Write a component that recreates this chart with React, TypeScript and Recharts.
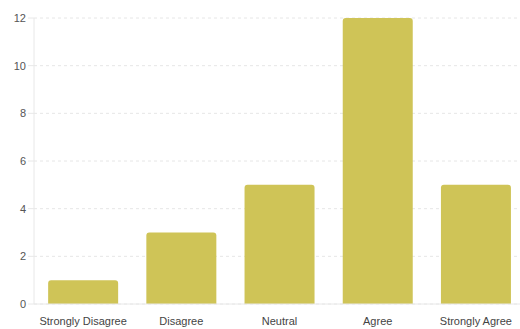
import { BarChart, Bar, XAxis, YAxis, CartesianGrid } from 'recharts';

const categories = ['Strongly Disagree', 'Disagree', 'Neutral', 'Agree', 'Strongly Agree'];
const counts = [1, 3, 5, 12, 5];
const yTicks = [0, 2, 4, 6, 8, 10, 12];

const data = categories.map((c, i) => ({ name: c, value: counts[i] }));

export default function App() {
  return (
    <div style={{ position: 'absolute', left: 0, top: 0, width: 520, height: 329, overflow: 'hidden', background: '#fff' }}>
      <BarChart
        width={520}
        height={329}
        data={data}
        margin={{ top: 18, right: -5, left: 0, bottom: 0 }}
        barCategoryGap="14.4%"
        style={{ fontFamily: 'Liberation Sans, Arial, sans-serif' }}
      >
        <CartesianGrid vertical={false} stroke="#e6e6e6" strokeDasharray="3 3" />
        <XAxis
          dataKey="name"
          height={25}
          axisLine={{ stroke: '#e8e8e8' }}
          tickLine={false}
          tickMargin={7}
          tick={{ fontSize: 11, fill: '#444' }}
          interval={0}
        />
        <YAxis
          width={34}
          domain={[0, 12]}
          ticks={yTicks}
          axisLine={{ stroke: '#e8e8e8' }}
          tickLine={{ stroke: '#e8e8e8' }}
          tick={{ fontSize: 11, fill: '#555' }}
        />
        <Bar dataKey="value" fill="#cfc457" radius={[3, 3, 0, 0]} isAnimationActive={false} />
      </BarChart>
    </div>
  );
}
